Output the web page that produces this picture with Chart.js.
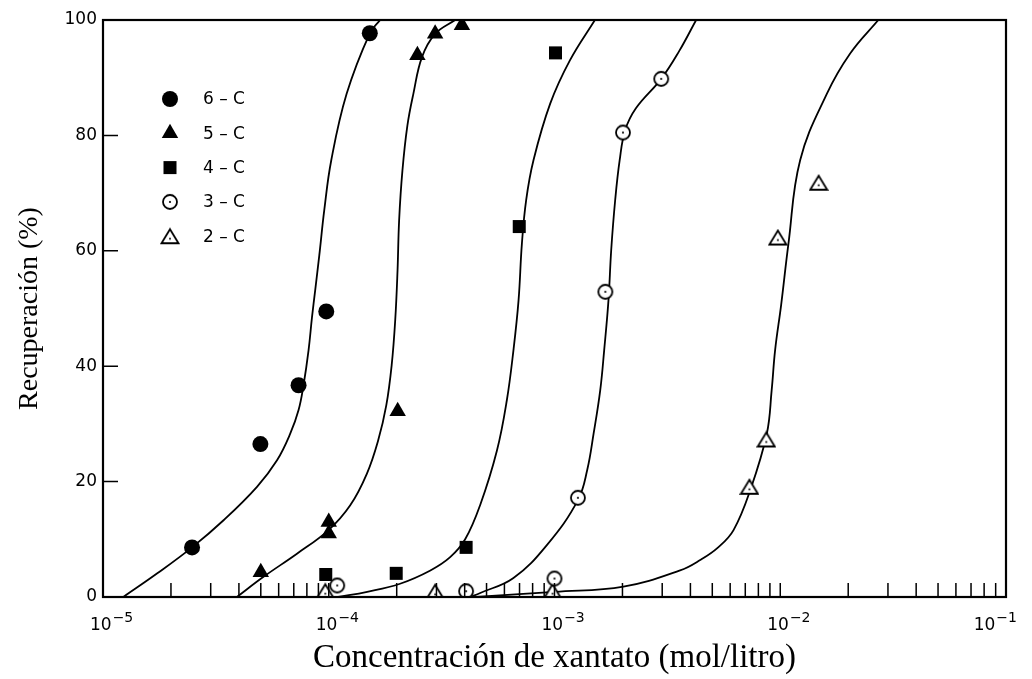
<!DOCTYPE html>
<html>
<head>
<meta charset="utf-8">
<script src="https://cdn.jsdelivr.net/npm/chart.js@4.4.1/dist/chart.umd.min.js"></script>
<style>
  html, body { margin: 0; padding: 0; background: #fff; }
  #wrap { width: 1032px; height: 679px; position: relative; }
</style>
</head>
<body>
<div id="wrap"><canvas id="chart"></canvas></div>
<script>
// Recuperación vs concentración de xantato (5 colectores)

const seriesNames = ["6 – C", "5 – C", "4 – C", "3 – C", "2 – C"];

// puntos medidos [concentración mol/l, recuperación %]
const pts6C = [[2.48e-5, 8.6], [4.98e-5, 26.5], [7.35e-5, 36.7], [9.75e-5, 49.5], [1.52e-4, 97.7]];
const pts5C = [[5.0e-5, 4.3], [1.0e-4, 13.0], [1.0e-4, 11.0], [2.02e-4, 32.2], [2.47e-4, 93.9], [2.96e-4, 97.6], [3.89e-4, 99.1]];
const pts4C = [[9.7e-5, 3.9], [1.99e-4, 4.1], [4.06e-4, 8.6], [6.98e-4, 64.2], [1.01e-3, 94.3]];
const pts3C = [[1.09e-4, 2.0], [4.06e-4, 1.0], [1.0e-3, 3.2], [1.27e-3, 17.2], [1.68e-3, 52.9], [2.01e-3, 80.5], [2.97e-3, 89.8]];
const pts2C = [[9.65e-5, 1.0], [2.96e-4, 0.9], [9.8e-4, 1.0], [7.3e-3, 19.1], [8.67e-3, 27.3], [9.76e-3, 62.3], [1.48e-2, 71.8]];

// curvas trazadas a mano
const fit6C = [[1.23e-5, 0], [1.74e-5, 4.1], [2.48e-5, 8.6], [3.42e-5, 13.3], [4.81e-5, 19.1], [5.9e-5, 23.7], [6.75e-5, 28.3],
  [7.35e-5, 32.4], [7.73e-5, 36.7], [8.14e-5, 42.8], [8.43e-5, 48.5], [8.71e-5, 53.2], [9.08e-5, 59.2], [9.55e-5, 67.0],
  [1.026e-4, 75.7], [1.2e-4, 87.2], [1.52e-4, 97.7], [1.69e-4, 100]];
const fit5C = [[3.92e-5, 0], [5.14e-5, 3.5], [7.23e-5, 7.5], [9.98e-5, 11.6], [1.245e-4, 15.9], [1.476e-4, 21.4], [1.657e-4, 27.2],
  [1.798e-4, 33.2], [1.90e-4, 40.2], [1.97e-4, 48.0], [2.017e-4, 56.6], [2.05e-4, 65.3], [2.12e-4, 73.9], [2.23e-4, 81.7],
  [2.37e-4, 87.2], [2.59e-4, 93.6], [2.96e-4, 97.6], [3.63e-4, 100]];
const fit4C = [[1.10e-4, 0], [1.48e-4, 0.9], [2.07e-4, 2.3], [2.82e-4, 4.6], [3.45e-4, 6.9], [4.02e-4, 10.0], [4.69e-4, 16.0],
  [5.56e-4, 25.4], [6.15e-4, 34.1], [6.58e-4, 42.8], [6.93e-4, 51.4], [7.17e-4, 61.2], [7.49e-4, 68.8], [8.07e-4, 75.7],
  [9.57e-4, 85.5], [1.17e-3, 93.0], [1.51e-3, 100]];
const fit3C = [[4.23e-4, 0], [4.69e-4, 0.7], [6.58e-4, 3.3], [9.25e-4, 9.0], [1.27e-3, 16.8], [1.396e-3, 22.0], [1.49e-3, 28.3],
  [1.594e-3, 35.8], [1.66e-3, 42.8], [1.734e-3, 51.4], [1.783e-3, 60.1], [1.857e-3, 68.8], [1.944e-3, 75.7], [2.056e-3, 80.9],
  [2.294e-3, 84.7], [2.97e-3, 89.8], [3.566e-3, 94.6], [4.24e-3, 100]];
const fit2C = [[4.5e-4, 0], [1.0e-3, 0.9], [2.02e-3, 1.8], [3.6e-3, 4.6], [4.42e-3, 6.4], [5.31e-3, 8.6], [6.21e-3, 11.6],
  [7.36e-3, 18.5], [8.72e-3, 28.3], [9.16e-3, 35.8], [9.49e-3, 42.8], [1.009e-2, 50.6], [1.087e-2, 61.2], [1.225e-2, 75.7],
  [1.608e-2, 87.2], [2.04e-2, 94.2], [2.72e-2, 100]];

const xTickValues = [1e-5, 1e-4, 1e-3, 1e-2, 1e-1];
const xTickBase = "10";
const xTickExponents = ["−5", "−4", "−3", "−2", "−1"];
const yTickValues = [0, 20, 40, 60, 80, 100];

// marcas menores del eje log (1..9 por década)
const xMinorTicks = [];
for (let e = -5; e < -1; e++) {
  for (let m = 1; m <= 9; m++) xMinorTicks.push(m * Math.pow(10, e));
}
xMinorTicks.push(1e-1);

const toXY = arr => arr.map(p => ({ x: p[0], y: p[1] }));

function openCircle() {
  const c = document.createElement("canvas");
  c.width = 18; c.height = 18;
  const g = c.getContext("2d");
  g.beginPath(); g.arc(9, 9, 7, 0, Math.PI * 2);
  g.fillStyle = "#fff"; g.fill();
  g.lineWidth = 1.8; g.strokeStyle = "#000"; g.stroke();
  g.beginPath(); g.arc(9, 9, 1.1, 0, Math.PI * 2);
  g.fillStyle = "#000"; g.fill();
  return c;
}
function openTriangle() {
  const c = document.createElement("canvas");
  c.width = 20; c.height = 18;
  const g = c.getContext("2d");
  g.beginPath(); g.moveTo(10, 2); g.lineTo(18.5, 16); g.lineTo(1.5, 16); g.closePath();
  g.fillStyle = "#fff"; g.fill();
  g.lineWidth = 1.8; g.strokeStyle = "#000"; g.stroke();
  g.beginPath(); g.arc(10, 11.5, 1.0, 0, Math.PI * 2);
  g.fillStyle = "#000"; g.fill();
  return c;
}

function pointSet(label, data, style, radius) {
  return {
    type: "scatter", label: label, data: toXY(data), order: 0,
    pointStyle: style, pointRadius: radius, pointHoverRadius: radius,
    pointBackgroundColor: "#000", pointBorderColor: "#000", pointBorderWidth: 0,
  };
}
function curveSet(data) {
  return {
    type: "line", data: toXY(data), order: 1,
    borderColor: "#000", borderWidth: 1.8, pointRadius: 0, pointHoverRadius: 0,
    fill: false, tension: 0.4,
  };
}

const frameTicks = {
  id: "frameTicks",
  afterDraw(chart) {
    const { ctx, chartArea: a, scales: { x, y } } = chart;
    ctx.save();
    ctx.strokeStyle = "#000";
    ctx.lineWidth = 1.5;
    ctx.beginPath();
    yTickValues.forEach(v => {
      const py = y.getPixelForValue(v);
      ctx.moveTo(a.left, py); ctx.lineTo(a.left + 15, py);
    });
    xMinorTicks.forEach(v => {
      const px = x.getPixelForValue(v);
      ctx.moveTo(px, a.bottom); ctx.lineTo(px, a.bottom - 14);
    });
    ctx.stroke();
    ctx.lineWidth = 2.2;
    ctx.strokeRect(a.left, a.top, a.right - a.left, a.bottom - a.top);

    // etiquetas 10^n con exponente elevado
    ctx.fillStyle = "#000";
    ctx.textAlign = "left";
    ctx.textBaseline = "alphabetic";
    xTickValues.forEach((v, i) => {
      const px = x.getPixelForValue(v);
      ctx.font = '17px "DejaVu Sans"';
      const w = ctx.measureText(xTickBase).width;
      ctx.font = '14px "DejaVu Sans"';
      const we = ctx.measureText(xTickExponents[i]).width;
      const left = Math.min(px - 13, chart.width - 16 - w - we);
      ctx.font = '17px "DejaVu Sans"';
      ctx.fillText(xTickBase, left, a.bottom + 33);
      ctx.font = '14px "DejaVu Sans"';
      ctx.fillText(xTickExponents[i], left + w + 1, a.bottom + 25);
    });
    ctx.restore();
  }
};

const insetLegend = {
  id: "insetLegend",
  afterDraw(chart) {
    const ctx = chart.ctx;
    ctx.save();
    ctx.font = '17px "DejaVu Sans"';
    ctx.textBaseline = "middle";
    seriesNames.forEach((name, i) => {
      const ds = chart.data.datasets[i];
      const y = 99 + i * 34.3;
      ctx.fillStyle = "#000";
      ctx.strokeStyle = "#000";
      Chart.helpers.drawPoint(ctx, { pointStyle: ds.pointStyle, radius: ds.pointRadius, rotation: 0, borderWidth: 0 }, 170, y);
      ctx.fillText(name, 203, y + 1);
    });
    ctx.restore();
  }
};

new Chart(document.getElementById("chart"), {
  type: "scatter",
  data: {
    datasets: [
      pointSet(seriesNames[0], pts6C, "circle", 8),
      pointSet(seriesNames[1], pts5C, "triangle", 9.5),
      pointSet(seriesNames[2], pts4C, "rect", 9.2),
      pointSet(seriesNames[3], pts3C, openCircle(), 8),
      pointSet(seriesNames[4], pts2C, openTriangle(), 9),
      curveSet(fit6C),
      curveSet(fit5C),
      curveSet(fit4C),
      curveSet(fit3C),
      curveSet(fit2C),
    ],
  },
  options: {
    responsive: true,
    maintainAspectRatio: false,
    animation: false,
    layout: { padding: { top: 20, right: 26, left: 0, bottom: 0 }, autoPadding: false },
    plugins: {
      legend: { display: false },
      tooltip: { enabled: false },
    },
    scales: {
      x: {
        type: "logarithmic",
        min: 1e-5,
        max: 1e-1,
        afterBuildTicks: scale => { scale.ticks = xTickValues.map(v => ({ value: v })); },
        afterFit: scale => { scale.height = 82; },
        grid: { display: false, drawTicks: false },
        border: { display: false },
        ticks: { display: false },
        title: {
          display: true,
          text: "Concentración de xantato (mol/litro)",
          color: "#000",
          font: { family: "Liberation Serif", size: 33 },
          padding: { top: 0, bottom: 1 },
        },
      },
      y: {
        min: 0,
        max: 100,
        afterBuildTicks: scale => { scale.ticks = yTickValues.map(v => ({ value: v })); },
        afterFit: scale => { scale.width = 103; },
        grid: { display: false, drawTicks: false },
        border: { display: false },
        ticks: {
          padding: 6,
          color: "#000",
          font: { family: "DejaVu Sans", size: 17 },
        },
        title: {
          display: true,
          text: "Recuperación (%)",
          color: "#000",
          font: { family: "Liberation Serif", size: 28 },
          padding: { top: 13, bottom: 0 },
        },
      },
    },
  },
  plugins: [frameTicks, insetLegend],
});
</script>
</body>
</html>
